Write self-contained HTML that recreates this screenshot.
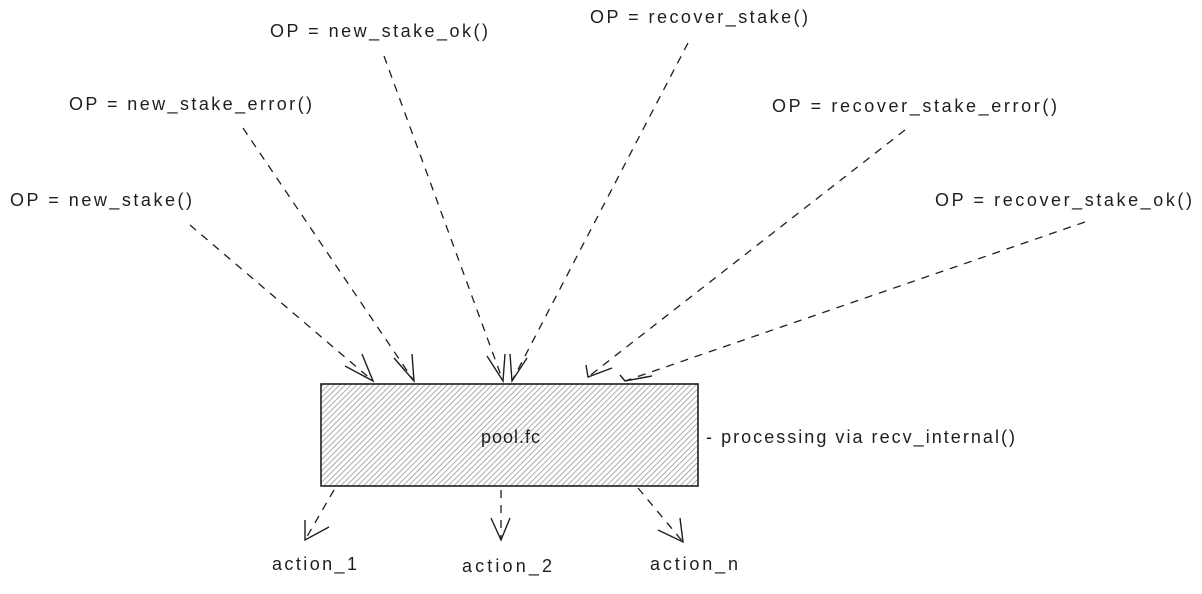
<!DOCTYPE html>
<html><head><meta charset="utf-8"><style>
html,body{margin:0;padding:0;background:#fff;}
svg text{font-family:"Liberation Sans",sans-serif;font-size:18px;fill:#1e1e1e;}
</style></head><body>
<svg width="1202" height="589" viewBox="0 0 1202 589" xmlns="http://www.w3.org/2000/svg">
<defs>
<pattern id="h" width="4" height="4" patternUnits="userSpaceOnUse" patternTransform="rotate(45)">
<rect width="4" height="4" fill="#fff"/>
<line x1="0" y1="0" x2="0" y2="4" stroke="#8a8a8a" stroke-width="1.4"/>
</pattern>
</defs>
<rect x="321" y="384" width="377" height="102" fill="url(#h)" stroke="#1e1e1e" stroke-width="1.6"/>
<g stroke="#1e1e1e" stroke-width="1.3" fill="none" stroke-dasharray="8 7">
<line x1="190" y1="225" x2="373" y2="381"/>
<line x1="243" y1="128" x2="414" y2="381"/>
<line x1="384" y1="56" x2="503" y2="381"/>
<line x1="688" y1="43" x2="512" y2="381"/>
<line x1="905" y1="130" x2="588" y2="377"/>
<line x1="1085" y1="222" x2="625" y2="381"/>
<line x1="334" y1="490" x2="305" y2="540"/>
<line x1="501" y1="490" x2="501" y2="540"/>
<line x1="638" y1="488" x2="683" y2="542"/>
</g>
<g stroke="#1e1e1e" stroke-width="1.4" fill="none">
<path d="M345 366 L373 381 L362 354"/>
<path d="M394 358 L414 381 L412 354"/>
<path d="M487 356 L503 381 L505 354"/>
<path d="M510 354 L512 381 L527 358"/>
<path d="M586 365 L588 377 L612 368"/>
<path d="M620 375 L625 381 L652 376"/>
<path d="M305 520 L305 540 L329 527"/>
<path d="M491 518 L501 540 L510 518"/>
<path d="M658 530 L683 542 L680 518"/>
</g>
<text x="10" y="206" textLength="182">OP = new_stake()</text>
<text x="69" y="110" textLength="243">OP = new_stake_error()</text>
<text x="270" y="37" textLength="218">OP = new_stake_ok()</text>
<text x="590" y="23" textLength="218">OP = recover_stake()</text>
<text x="772" y="112" textLength="285">OP = recover_stake_error()</text>
<text x="935" y="206" textLength="257">OP = recover_stake_ok()</text>
<text x="481" y="443" textLength="59">pool.fc</text>
<text x="706" y="443" textLength="309">- processing via recv_internal()</text>
<text x="272" y="570" textLength="85">action_1</text>
<text x="462" y="572" textLength="90">action_2</text>
<text x="650" y="570" textLength="88">action_n</text>
</svg>
</body></html>
